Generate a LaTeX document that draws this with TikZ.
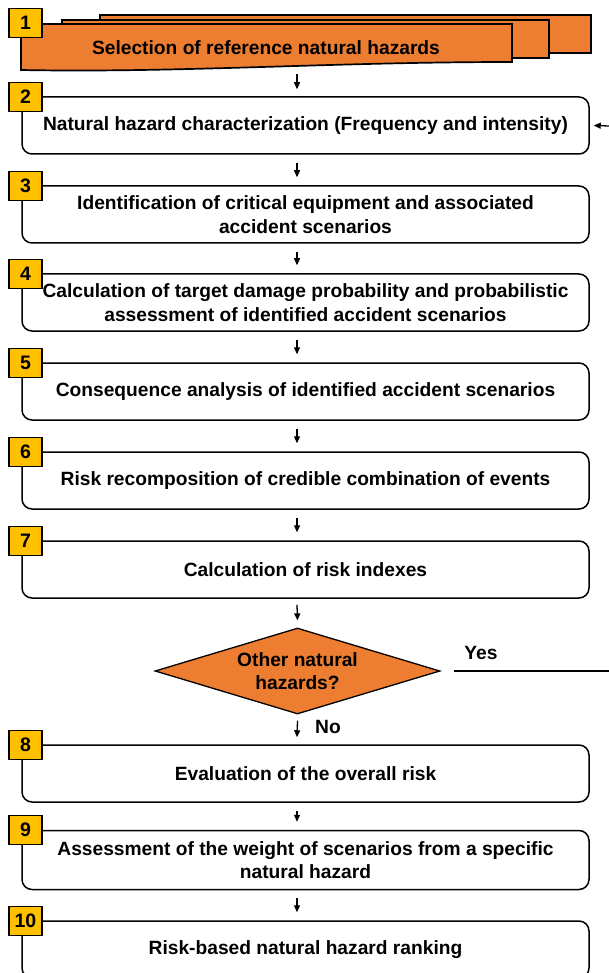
\documentclass[tikz,border=0pt]{standalone}
\usepackage{fontspec}
\setmainfont{Liberation Sans}
\usetikzlibrary{shapes.geometric,arrows.meta,calc}
\definecolor{orng}{HTML}{ED7D31}
\definecolor{gold}{HTML}{FFC000}
\begin{document}
\begin{tikzpicture}[x=1pt,y=-1pt,
  stepbox/.style={draw, line width=1.5pt, rounded corners=10pt, minimum width=567pt, minimum height=57pt, align=center, fill=white, inner sep=0pt, font=\bfseries\fontsize{19.2}{23.5}\selectfont},
  numbox/.style={draw, line width=1.3pt, fill=gold, minimum width=33pt, minimum height=29pt, inner sep=0pt, font=\bfseries\fontsize{19.5}{19.5}\selectfont},
  doc/.style={draw, line width=1.7pt, fill=orng},
  arr/.style={-{Triangle[length=7pt,width=6pt]}, line width=1.3pt},
  lbl/.style={font=\bfseries\fontsize{19.2}{23.5}\selectfont, inner sep=0pt, align=center}]
\useasboundingbox (0,0) rectangle (609,973);
% step 1: multi-document
\draw[doc] (100,15) rectangle (591,53);
\draw[doc] (62,20) rectangle (549,58);
\draw[doc] (21,24) -- (512,24) -- (512,62) .. controls (330,62) and (180,73) .. (21,70) -- cycle;
\node[lbl] (b1) at (266,48) {Selection of reference natural hazards};
\node[numbox] (n1) at (25.5,23) {1};
\coordinate (a1) at (297,74);
% boxes
\node[stepbox] (b2) at (305.5,125.5) {Natural hazard characterization (Frequency and intensity)};
\node[stepbox] (b3) at (305.5,214.5) {Identification of critical equipment and associated\\accident scenarios};
\node[stepbox] (b4) at (305.5,302.5) {Calculation of target damage probability and probabilistic\\assessment of identified accident scenarios};
\node[stepbox] (b5) at (305.5,391.5) {Consequence analysis of identified accident scenarios};
\node[stepbox] (b6) at (305.5,480.5) {Risk recomposition of credible combination of events};
\node[stepbox] (b7) at (305.5,569.5) {Calculation of risk indexes};
\node[diamond, draw, fill=orng, line width=1.3pt, minimum width=285pt, minimum height=86pt, aspect=3.3, inner sep=0pt, align=center, font=\bfseries\fontsize{19.2}{23}\selectfont] (d) at (297.5,671) {Other natural\\hazards?};
\node[stepbox] (b8) at (305.5,773.5) {Evaluation of the overall risk};
\node[stepbox, minimum height=59pt] (b9) at (305.5,860) {Assessment of the weight of scenarios from a specific\\natural hazard};
\node[stepbox] (b10) at (305.5,949.5) {Risk-based natural hazard ranking};
% number boxes
\node[numbox] (n2) at (25.5,97) {2};
\node[numbox] (n3) at (25.5,186) {3};
\node[numbox] (n4) at (25.5,274) {4};
\node[numbox] (n5) at (25.5,363) {5};
\node[numbox] (n6) at (25.5,452) {6};
\node[numbox] (n7) at (25.5,541) {7};
\node[numbox] (n8) at (25.5,745) {8};
\node[numbox] (n9) at (25.5,830) {9};
\node[numbox] (n10) at (25.5,921) {10};
% arrows
\draw[arr] (a1) -- ($(b2.north)+(-8.5,-7)$);
\draw[arr] ($(b2.south)+(-8.5,8)$) -- ($(b3.north)+(-8.5,-8)$);
\draw[arr] ($(b3.south)+(-8.5,8)$) -- ($(b4.north)+(-8.5,-8)$);
\draw[arr] ($(b4.south)+(-8.5,8)$) -- ($(b5.north)+(-8.5,-8)$);
\draw[arr] ($(b5.south)+(-8.5,8)$) -- ($(b6.north)+(-8.5,-8)$);
\draw[arr] ($(b6.south)+(-8.5,8)$) -- ($(b7.north)+(-8.5,-8)$);
\draw[arr] ($(b7.south)+(-8.5,6)$) -- ($(d.north)+(0,-7)$);
\draw[arr] ($(d.south)+(0,6)$) -- ($(b8.north)+(-8.5,-7)$);
\draw[arr] ($(b8.south)+(-8.5,8)$) -- ($(b9.north)+(-8.5,-8)$);
\draw[arr] ($(b9.south)+(-8.5,8)$) -- ($(b10.north)+(-8.5,-8)$);
\node[lbl] (no) at (328,727) {No};
\node[lbl] (yes) at (481,653) {Yes};
\coordinate (yesend) at (609,671);
\draw[line width=1.3pt] ($(d.east)+(13,0)$) -- (yesend);
\coordinate (back) at (609,126);
\draw[arr] (back) -- ($(b2.east)+(4,0)$);
\end{tikzpicture}
\end{document}
